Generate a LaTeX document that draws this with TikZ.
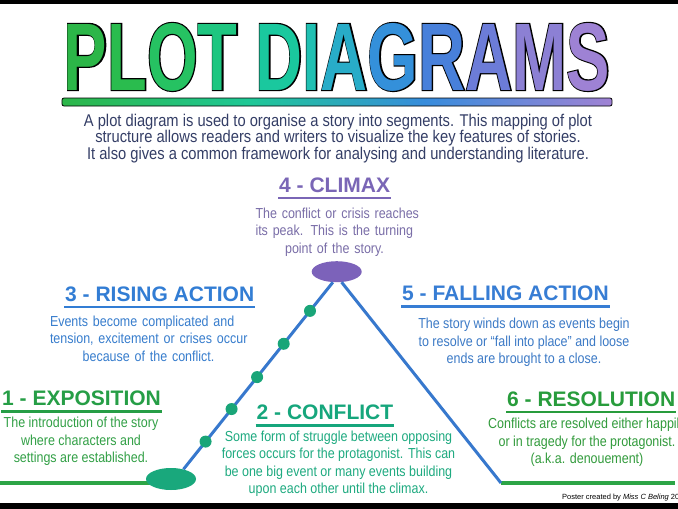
\documentclass[tikz,border=0pt]{standalone}
\usepackage{fontspec}
\usetikzlibrary{calc,shapes.geometric}
\setmainfont{Liberation Sans}
\newfontfamily\titlefont[FakeStretch=0.678]{Liberation Sans Bold}
\newfontfamily\titleedge[FakeStretch=0.678, FakeBold=2.4]{Liberation Sans Bold}
\newfontfamily\bodyfont[FakeStretch=0.86]{Liberation Sans}
\newfontfamily\introfont[FakeStretch=0.865]{Liberation Sans}

\definecolor{tgreen}{RGB}{44,182,72}
\definecolor{tteal}{RGB}{30,200,150}
\definecolor{tblue}{RGB}{55,140,220}
\definecolor{tpurple}{RGB}{160,130,212}
\definecolor{introcol}{RGB}{52,62,102}
\definecolor{climcol}{RGB}{122,102,182}
\definecolor{climtext}{RGB}{122,110,168}
\definecolor{risecol}{RGB}{50,125,212}
\definecolor{risetext}{RGB}{55,125,205}
\definecolor{fallcol}{RGB}{55,125,212}
\definecolor{falltext}{RGB}{60,122,198}
\definecolor{expocol}{RGB}{38,158,70}
\definecolor{expotext}{RGB}{50,160,70}
\definecolor{confcol}{RGB}{22,166,124}
\definecolor{conftext}{RGB}{30,170,128}
\definecolor{resocol}{RGB}{40,156,60}
\definecolor{resotext}{RGB}{50,155,60}
\definecolor{lineblue}{RGB}{55,120,205}
\definecolor{dotteal}{RGB}{25,165,120}
\definecolor{expofill}{RGB}{25,168,124}
\definecolor{peakfill}{RGB}{124,98,186}
\definecolor{groundgreen}{RGB}{45,165,70}

\pgfdeclarehorizontalshading{titlebar}{100bp}{color(0bp)=(tgreen); color(25bp)=(tgreen); color(42bp)=(tteal); color(58bp)=(tblue); color(75bp)=(tpurple); color(100bp)=(tpurple)}

\newcommand{\tletter}[2]{\textcolor[RGB]{#1}{#2}}

\tikzset{
	titletext/.style={inner sep=0pt, anchor=base},
	heading/.style={font=\fontsize{21}{21}\selectfont\bfseries, inner sep=0pt, anchor=base west},
	body/.style={font=\bodyfont\fontsize{14.5}{17.5}\selectfont, align=center, inner sep=0pt, anchor=north},
	evdot/.style={circle, fill=dotteal, minimum size=12pt, inner sep=0pt},
	bluelink/.style={line width=3pt, color=lineblue},
	groundline/.style={line width=3.5pt, color=groundgreen},
}

\begin{document}
\begin{tikzpicture}[x=1pt, y=-1pt]
			%%%%% START %%%%%
			\useasboundingbox (0,0) rectangle (678,509);
			\clip (0,0) rectangle (678,509);
			\fill[white] (0,0) rectangle (678,509);
			
			\fill[black] (0,0) rectangle (678,4);
			\fill[black] (0,503) rectangle (678,509);
			
			% title
			\node[titletext, font=\titleedge\fontsize{96}{96}\selectfont, black] (titleedge) at (337,90) {PLOT DIAGRAMS};
			\node[titletext, font=\titlefont\fontsize{96}{96}\selectfont] (title) at (337,90)
				{\tletter{44,182,72}{P}\tletter{42,188,78}{L}\tletter{38,194,98}{O}\tletter{30,198,128}{T} \tletter{26,200,158}{D}\tletter{32,192,178}{I}\tletter{40,172,200}{A}\tletter{52,144,218}{G}\tletter{72,128,218}{R}\tletter{108,124,216}{A}\tletter{140,128,212}{M}\tletter{158,130,212}{S}};
			\shadedraw[shading=titlebar, rounded corners=2pt, line width=0.8pt] (62,98) rectangle (612,106);
			
			\node[font=\introfont\fontsize{17}{15.5}\selectfont, align=center, inner sep=0pt, anchor=north, introcol] (intro) at (338,113.6)
				{A plot diagram is used to organise a story into segments. This mapping of plot\\
				structure allows readers and writers to visualize the key features of stories.\\
				It also gives a common framework for analysing and understanding literature.};
			
			% ground lines
			\coordinate (lbase) at (0,483);
			\coordinate (expoc) at (171,479);
			\coordinate (fallc) at (501,483);
			\coordinate (rbase) at (675,483);
			\draw[groundline] (lbase) -- (lbase -| expoc);
			\draw[groundline] (fallc) -- (rbase);
			
			\node[ellipse, fill=expofill, minimum width=50pt, minimum height=22pt, inner sep=0pt] (expo) at (expoc) {};
			\node[ellipse, fill=peakfill, minimum width=50pt, minimum height=21pt, inner sep=0pt] (peak) at (336.7,271.7) {};
			
			\draw[bluelink] (peak.250) -- (expo.38);
			\draw[bluelink] (peak.295) -- (fallc);
			\foreach \p [count=\i] in {0.153,0.329,0.507,0.678,0.852}
				\node[evdot] (ev\i) at ($(peak.250)!\p!(expo.38)$) {};
			
			% headings
			\node[heading, climcol] (climh) at (279,192) {4 - CLIMAX};
			\node[heading, risecol] (riseh) at (65,301) {3 - RISING ACTION};
			\node[heading, fallcol] (fallh) at (402,300.5) {5 - FALLING ACTION};
			\node[heading, expocol] (expoh) at (2,405.5) {1 - EXPOSITION};
			\node[heading, confcol] (confh) at (256.5,419.5) {2 - CONFLICT};
			\node[heading, resocol] (resoh) at (507,406) {6 - RESOLUTION};
			\foreach \h/\c in {climh/climcol, riseh/risecol, fallh/fallcol, expoh/expocol, confh/confcol, resoh/resocol}
				\draw[line width=2.5pt, color=\c] ([xshift=-1pt, yshift=-6pt]\h.base west) -- ([xshift=1pt, yshift=-6pt]\h.base east);
			
			% texts
			\node[body, climtext, text width=158pt] (climb) at (334.5,207.3)
				{\makebox[158pt][s]{The conflict or crisis reaches}\\\makebox[158pt][s]{its peak. This is the turning}\\point of the story.};
			\node[body, risetext, text width=197pt] (riseb) at (148.5,315.7)
				{\makebox[197pt][s]{Events become complicated and}\\\makebox[197pt][s]{tension, excitement or crises occur}\\because of the conflict.};
			\node[body, falltext] (fallb) at (524,318)
				{The story winds down as events begin\\to resolve or “fall into place” and loose\\ends are brought to a close.};
			\node[body, expotext] (expob) at (81,417)
				{The introduction of the story\\where characters and\\settings are established.};
			\node[body, conftext] (confb) at (338.5,430.7)
				{Some form of struggle between opposing\\forces occurs for the protagonist. This can\\be one big event or many events building\\upon each other until the climax.};
			\node[body, resotext] (resob) at (587,418)
				{Conflicts are resolved either happily\\or in tragedy for the protagonist.\\(a.k.a. denouement)};
			
			\node[font=\fontsize{7.5}{8}\selectfont, inner sep=0pt, anchor=base west] (credit) at (562,499)
				{Poster created by \textit{Miss C Beling} 20};
			%%%%% END %%%%%
\end{tikzpicture}
\end{document}
